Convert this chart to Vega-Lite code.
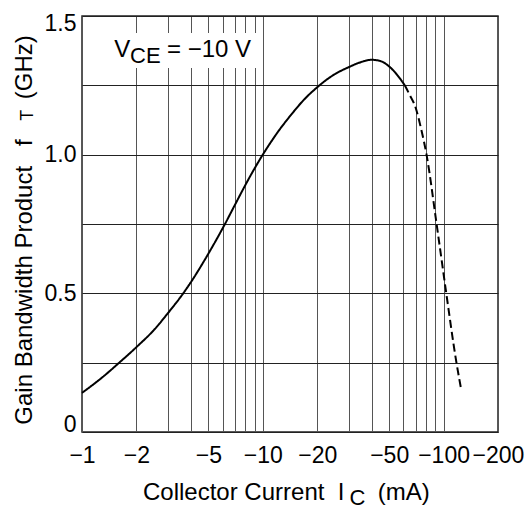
{
  "$schema": "https://vega.github.io/schema/vega-lite/v6.json",
  "autosize": {"type": "none"},
  "padding": {"left": 82, "top": 16, "right": 29, "bottom": 76},
  "width": 416,
  "height": 416,
  "config": {
    "font": "Liberation Sans",
    "view": {"stroke": "#222", "strokeWidth": 1.5},
    "axis": {"labelFont": "Liberation Sans", "titleFont": "Liberation Sans", "labelColor": "#000", "titleColor": "#000", "titleFontWeight": "normal"}
  },
  "resolve": {"axis": {"x": "independent", "y": "independent"}},
  "layer": [
    {
      "data": {
        "values": [
          {"ic": 1, "ft": 0.141, "kind": "measured"},
          {"ic": 1.3, "ft": 0.198, "kind": "measured"},
          {"ic": 1.62, "ft": 0.252, "kind": "measured"},
          {"ic": 2, "ft": 0.306, "kind": "measured"},
          {"ic": 2.5, "ft": 0.368, "kind": "measured"},
          {"ic": 3, "ft": 0.43, "kind": "measured"},
          {"ic": 3.63, "ft": 0.5, "kind": "measured"},
          {"ic": 4, "ft": 0.54, "kind": "measured"},
          {"ic": 5, "ft": 0.643, "kind": "measured"},
          {"ic": 6.2, "ft": 0.752, "kind": "measured"},
          {"ic": 7, "ft": 0.818, "kind": "measured"},
          {"ic": 8, "ft": 0.89, "kind": "measured"},
          {"ic": 9, "ft": 0.95, "kind": "measured"},
          {"ic": 10, "ft": 1.0, "kind": "measured"},
          {"ic": 11, "ft": 1.042, "kind": "measured"},
          {"ic": 12, "ft": 1.078, "kind": "measured"},
          {"ic": 14.6, "ft": 1.15, "kind": "measured"},
          {"ic": 17, "ft": 1.2, "kind": "measured"},
          {"ic": 20, "ft": 1.243, "kind": "measured"},
          {"ic": 22.5, "ft": 1.27, "kind": "measured"},
          {"ic": 25, "ft": 1.29, "kind": "measured"},
          {"ic": 30, "ft": 1.316, "kind": "measured"},
          {"ic": 35, "ft": 1.334, "kind": "measured"},
          {"ic": 40, "ft": 1.342, "kind": "measured"},
          {"ic": 45, "ft": 1.337, "kind": "measured"},
          {"ic": 50, "ft": 1.318, "kind": "measured"},
          {"ic": 55, "ft": 1.29, "kind": "measured"},
          {"ic": 61, "ft": 1.25, "kind": "measured"},
          {"ic": 61, "ft": 1.25, "kind": "extrapolated"},
          {"ic": 65, "ft": 1.215, "kind": "extrapolated"},
          {"ic": 70, "ft": 1.17, "kind": "extrapolated"},
          {"ic": 75, "ft": 1.095, "kind": "extrapolated"},
          {"ic": 80.5, "ft": 1.0, "kind": "extrapolated"},
          {"ic": 91.5, "ft": 0.75, "kind": "extrapolated"},
          {"ic": 103.5, "ft": 0.5, "kind": "extrapolated"},
          {"ic": 117.8, "ft": 0.25, "kind": "extrapolated"},
          {"ic": 125.4, "ft": 0.15, "kind": "extrapolated"}
        ]
      },
      "mark": {"type": "line", "color": "#000", "strokeWidth": 2, "interpolate": "monotone"},
      "encoding": {
        "x": {
          "field": "ic", "type": "quantitative",
          "scale": {"type": "log", "domain": [1, 200], "nice": false},
          "axis": {
            "orient": "bottom",
            "values": [1, 2, 3, 4, 5, 6, 7, 8, 9, 10, 20, 30, 40, 50, 60, 70, 80, 90, 100, 200],
            "labelExpr": "indexof([1, 2, 5, 10, 20, 50, 100, 200], datum.value) >= 0 ? '\u2212' + datum.value : ''",
            "labelOverlap": false,
            "labelBound": false,
            "labelFlush": false,
            "labelFontSize": 23,
            "labelBaseline": "alphabetic",
            "labelPadding": 30,
            "ticks": false,
            "domain": false,
            "grid": true,
            "gridColor": "#555",
            "gridWidth": 1,
            "gridOpacity": 1,
            "title": "Collector Current\u00a0\u00a0I\u00a0\u00a0\u00a0\u00a0\u00a0(mA)",
            "titleFontSize": 24,
            "titleX": 60.5,
            "titleY": 67.3,
            "titleAlign": "left",
            "titleBaseline": "alphabetic",
            "titleAngle": 0
          }
        },
        "y": {
          "field": "ft", "type": "quantitative",
          "scale": {"domain": [0, 1.5], "nice": false, "zero": false},
          "axis": {
            "orient": "left",
            "values": [0, 0.25, 0.5, 0.75, 1, 1.25, 1.5],
            "labelExpr": "datum.value == 0 ? '0' : ((datum.value * 2) % 1 == 0 ? format(datum.value, '.1f') : '')",
            "labelOverlap": false,
            "labelBound": false,
            "labelFlush": true,
            "labelFlushOffset": 4,
            "labelFontSize": 23,
            "labelPadding": 6,
            "ticks": false,
            "domain": false,
            "grid": true,
            "gridColor": "#222",
            "gridWidth": 1,
            "gridOpacity": 1,
            "title": "Gain Bandwidth Product\u00a0\u00a0\u00a0f\u00a0\u00a0\u00a0\u00a0\u00a0\u00a0(GHz)",
            "titleFontSize": 24,
            "titleX": -50.7,
            "titleY": 408.2,
            "titleAngle": 270,
            "titleAlign": "left",
            "titleBaseline": "alphabetic"
          }
        },
        "strokeDash": {
          "field": "kind", "type": "nominal",
          "scale": {"domain": ["measured", "extrapolated"], "range": [[1, 0], [8, 4]]},
          "legend": null
        }
      }
    },
    {
      "data": {"values": [{}]},
      "mark": {"type": "rect", "fill": "#fff", "stroke": null},
      "encoding": {
        "x": {
          "datum": 1.3, "type": "quantitative",
          "axis": {
            "orient": "top", "labels": false, "ticks": false, "domain": false, "grid": false,
            "title": "C", "titleFontSize": 22, "titleX": 267, "titleY": 488,
            "titleAlign": "left", "titleBaseline": "alphabetic", "titleAngle": 0
          }
        },
        "x2": {"datum": 9.4},
        "y": {
          "datum": 1.4387, "type": "quantitative",
          "axis": {
            "orient": "right", "labels": false, "ticks": false, "domain": false, "grid": false,
            "title": "T", "titleFontSize": 18, "titleX": -465.7, "titleY": 104.3,
            "titleAlign": "left", "titleBaseline": "alphabetic", "titleAngle": 270
          }
        },
        "y2": {"datum": 1.3125}
      }
    },
    {
      "data": {"values": [{}]},
      "mark": {"type": "text", "text": "V", "fontSize": 24, "align": "left", "baseline": "alphabetic", "color": "#000"},
      "encoding": {
        "x": {"datum": 1.51, "type": "quantitative", "axis": null},
        "y": {"datum": 1.351, "type": "quantitative", "axis": null}
      }
    },
    {
      "data": {"values": [{}]},
      "mark": {"type": "text", "text": "CE", "fontSize": 22, "align": "left", "baseline": "alphabetic", "color": "#000"},
      "encoding": {
        "x": {"datum": 1.844, "type": "quantitative", "axis": null},
        "y": {"datum": 1.3305, "type": "quantitative", "axis": null}
      }
    },
    {
      "data": {"values": [{}]},
      "mark": {"type": "text", "text": "= \u221210 V", "fontSize": 24, "align": "left", "baseline": "alphabetic", "color": "#000"},
      "encoding": {
        "x": {"datum": 2.953, "type": "quantitative", "axis": null},
        "y": {"datum": 1.351, "type": "quantitative", "axis": null}
      }
    }
  ]
}
